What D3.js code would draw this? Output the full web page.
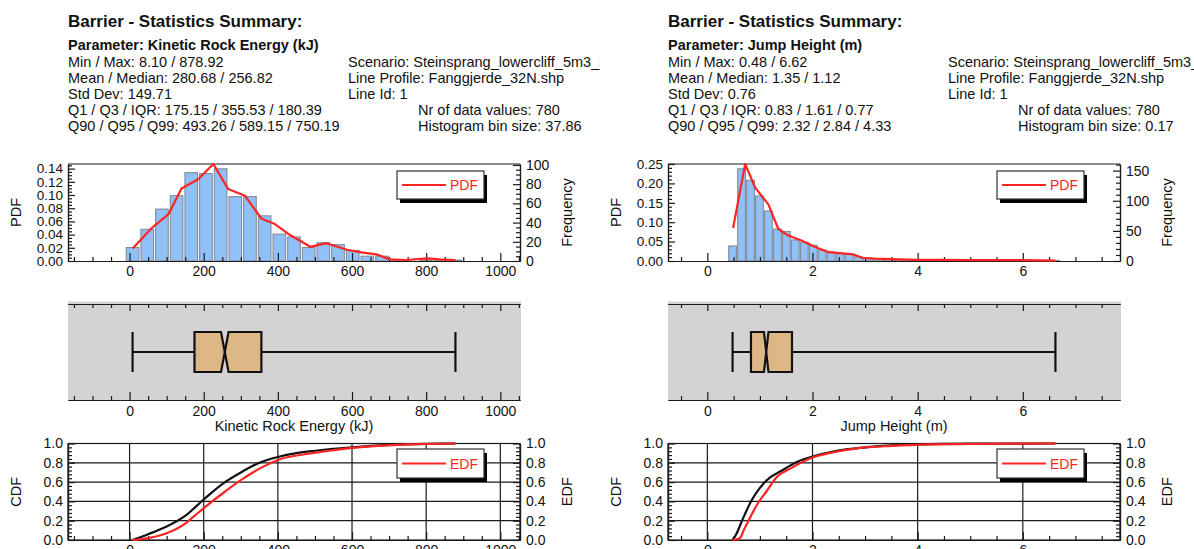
<!DOCTYPE html>
<html>
<head>
<meta charset="utf-8">
<script src="https://cdn.jsdelivr.net/npm/d3@7"></script>
<style>
  body { margin: 0; background: #fff; }
  svg { display: block; }
</style>
</head>
<body>
<svg id="chart" width="1194" height="549"></svg>
<script>
// ---------------- Kinetic Rock Energy (kJ) ----------------
const energyHeader = ["Barrier - Statistics Summary:", "Parameter: Kinetic Rock Energy (kJ)"];
const energyStatLines = [
  "Min / Max: 8.10 / 878.92",
  "Mean / Median: 280.68 / 256.82",
  "Std Dev: 149.71",
  "Q1 / Q3 / IQR: 175.15 / 355.53 / 180.39",
  "Q90 / Q95 / Q99: 493.26 / 589.15 / 750.19"
];
const energyInfoLines = ["Scenario: Steinsprang_lowercliff_5m3_sim", "Line Profile: Fanggjerde_32N.shp", "Line Id: 1"];
const energyCountLines = ["Nr of data values: 780", "Histogram bin size: 37.86"];
const energyBox = [8.10, 175.15, 256.82, 355.53, 878.92];     // min, Q1, median, Q3, max
const energyIQR = 180.39;
const energyCount = 780;
const energyFreq = [14, 33, 54, 68, 92, 91, 96, 67, 67, 47, 28, 25, 14, 19, 17, 11, 5, 5, 1, 0, 1, 1, 1];
const energyPdfX = [8.1, 60, 105, 140, 185, 226, 266, 311, 356, 392, 428, 468, 487, 531, 586, 625, 666, 702, 747, 801, 837, 878.92];
const energyPdfY = [0.019, 0.050, 0.071, 0.110, 0.124, 0.147, 0.109, 0.099, 0.064, 0.056, 0.041, 0.028, 0.0215, 0.027, 0.017, 0.013, 0.010, 0.0025, 0.0015, 0.004, 0.0025, 0.0015];
const energyCdfX = [8.1, 50, 100, 150, 200, 250, 300, 350, 400, 450, 500, 600, 700, 800, 878.92];
const energyCdfY = [0, 0.06, 0.14, 0.25, 0.42, 0.58, 0.70, 0.80, 0.86, 0.90, 0.925, 0.96, 0.985, 0.997, 1.0];
const energyEdfX = [8.1, 50, 100, 150, 175.15, 200, 256.82, 300, 355.53, 400, 493.26, 589.15, 650, 750.19, 878.92];
const energyEdfY = [0, 0.02, 0.07, 0.17, 0.25, 0.33, 0.5, 0.62, 0.75, 0.83, 0.90, 0.95, 0.97, 0.99, 1.0];
const energyXTicks = [0, 200, 400, 600, 800, 1000];
const energyPdfTicks = [0, 0.02, 0.04, 0.06, 0.08, 0.10, 0.12, 0.14];
const energyFreqTicks = [0, 20, 40, 60, 80, 100];
const energyFreqTop = 101;
const energyAxisTitle = "Kinetic Rock Energy (kJ)";

// ---------------- Jump Height (m) ----------------
const jumpHeader = ["Barrier - Statistics Summary:", "Parameter: Jump Height (m)"];
const jumpStatLines = [
  "Min / Max: 0.48 / 6.62",
  "Mean / Median: 1.35 / 1.12",
  "Std Dev: 0.76",
  "Q1 / Q3 / IQR: 0.83 / 1.61 / 0.77",
  "Q90 / Q95 / Q99: 2.32 / 2.84 / 4.33"
];
const jumpInfoLines = ["Scenario: Steinsprang_lowercliff_5m3_sim", "Line Profile: Fanggjerde_32N.shp", "Line Id: 1"];
const jumpCountLines = ["Nr of data values: 780", "Histogram bin size: 0.17"];
const jumpBox = [0.48, 0.83, 1.12, 1.61, 6.62];
const jumpIQR = 0.77;
const jumpCount = 780;
const jumpFreq = [25, 153, 134, 108, 83, 53, 49, 35, 31, 26, 18, 15, 13, 12, 7, 5,
                  3, 2, 2, 2, 1, 1, 1, 1, 0, 1, 0, 0, 0, 0, 1, 0, 0, 0, 0, 0, 1];
const jumpPdfX = [0.49, 0.72, 0.91, 1.16, 1.35, 1.54, 1.79, 2.05, 2.30, 2.61, 2.77, 2.96, 3.19, 3.5, 4.0, 4.5, 5.0, 5.5, 6.0, 6.62];
const jumpPdfY = [0.085, 0.25, 0.189, 0.146, 0.0825, 0.0655, 0.053, 0.036, 0.023, 0.019, 0.017, 0.0077, 0.006, 0.005, 0.003, 0.003, 0.002, 0.002, 0.002, 0.001];
const jumpCdfX = [0.48, 0.55, 0.66, 0.84, 1.0, 1.13, 1.42, 1.71, 2.03, 2.42, 3.0, 4.0, 5.0, 6.62];
const jumpCdfY = [0, 0.06, 0.20, 0.41, 0.54, 0.62, 0.72, 0.81, 0.87, 0.92, 0.96, 0.99, 0.998, 1.0];
const jumpEdfX = [0.48, 0.55, 0.62, 0.70, 0.83, 0.95, 1.12, 1.30, 1.61, 2.0, 2.32, 2.84, 3.5, 4.33, 5.0, 6.62];
const jumpEdfY = [0, 0.005, 0.02, 0.11, 0.25, 0.37, 0.5, 0.64, 0.75, 0.855, 0.90, 0.95, 0.975, 0.99, 0.995, 1.0];
const jumpXTicks = [0, 2, 4, 6];
const jumpPdfTicks = [0, 0.05, 0.10, 0.15, 0.20, 0.25];
const jumpFreqTicks = [0, 50, 100, 150];
const jumpFreqTop = 161;
const jumpAxisTitle = "Jump Height (m)";

const cdfTicks = [0, 0.2, 0.4, 0.6, 0.8, 1.0];

// ---------------- drawing ----------------
const FONT = '"Liberation Sans", Arial, Helvetica, sans-serif';
const RED = "#ff2424";
const svg = d3.select("#chart").style("font-family", FONT);

function minorTicks(domain, step, majors) {
  const out = [];
  const start = Math.ceil(domain[0] / step - 1e-9);
  const stop = Math.floor(domain[1] / step + 1e-9);
  for (let k = start; k <= stop; k++) {
    const v = k * step;
    if (!majors.some(m => Math.abs(m - v) < step * 1e-3)) out.push(v);
  }
  return out;
}

function styleAxis(sel, size) {
  sel.attr("font-size", null).attr("font-family", null);
  sel.selectAll("path, line").attr("stroke", "#1a1a1a").attr("stroke-width", 1.2);
  sel.selectAll("text").attr("fill", "#111").style("font-size", (size || 14) + "px").style("font-family", FONT);
}

// one axis: labelled major ticks + unlabelled minor ticks, ticks pointing inward
function axis(parent, gen, scale, majors, minors, fmt, majorLen, minorLen, pad, tf, size) {
  const a = parent.append("g").attr("transform", tf);
  a.call(gen(scale).tickValues(minors).tickSize(-minorLen).tickFormat("").tickSizeOuter(0));
  const m = a.append("g");
  m.call(gen(scale).tickValues(majors).tickSize(-majorLen).tickPadding(pad).tickFormat(fmt).tickSizeOuter(0));
  styleAxis(a, size);
  styleAxis(m, size);
  return a;
}

function legend(parent, x, y, w, h, label) {
  const g = parent.append("g");
  g.append("rect").attr("x", x + 3).attr("y", y + 4).attr("width", w).attr("height", h).attr("fill", "#000");
  g.append("rect").attr("x", x).attr("y", y).attr("width", w).attr("height", h)
    .attr("fill", "#fff").attr("stroke", "#333").attr("stroke-width", 1.2);
  g.append("line").attr("x1", x + 5).attr("x2", x + 49).attr("y1", y + h / 2).attr("y2", y + h / 2)
    .attr("stroke", RED).attr("stroke-width", 2.2);
  g.append("text").attr("x", x + 53).attr("y", y + h / 2).attr("dy", "0.36em")
    .attr("fill", RED).style("font-size", "14px").text(label);
}

function vTitle(parent, x, y, txt) {
  parent.append("text").attr("transform", `translate(${x},${y}) rotate(-90)`)
    .attr("text-anchor", "middle").attr("dy", "0.36em")
    .style("font-size", "14.5px").attr("fill", "#111").text(txt);
}

function drawPanel(ox, p, id) {
  svg.append("clipPath").attr("id", id).append("rect")
    .attr("x", 0).attr("y", 0).attr("width", 600).attr("height", 549);
  const root = svg.append("g").attr("transform", `translate(${ox},0)`);
  const g = root.append("g").attr("clip-path", `url(#${id})`);

  const L = 68, R = 520;
  const lo = p.box[0], hi = p.box[4], span = hi - lo;
  const xDom = [lo - 0.2 * span, hi + 0.2 * span];
  const x = d3.scaleLinear().domain(xDom).range([L, R]);
  const xMinor = minorTicks(xDom, p.xMinorStep, p.xTicks);

  // ---- header text ----
  g.append("text").attr("x", 68).attr("y", 27).style("font-size", "17px").style("font-weight", "bold")
    .attr("fill", "#111").text(p.header[0]);
  g.append("text").attr("x", 68).attr("y", 50).style("font-size", "14.5px").style("font-weight", "bold")
    .attr("fill", "#111").text(p.header[1]);
  g.selectAll("text.stat").data(p.stats).join("text").attr("class", "stat")
    .attr("x", 68).attr("y", (d, i) => 67 + i * 16).style("font-size", "14.5px").attr("fill", "#111").text(d => d);
  g.selectAll("text.info").data(p.info).join("text").attr("class", "info")
    .attr("x", 348).attr("y", (d, i) => 67 + i * 16).style("font-size", "14.5px").attr("fill", "#111").text(d => d);
  g.selectAll("text.count").data(p.counts).join("text").attr("class", "count")
    .attr("x", 418).attr("y", (d, i) => 115 + i * 16).style("font-size", "14.5px").attr("fill", "#111").text(d => d);

  // ---- histogram + PDF ----
  const hT = 164, hB = 261;
  const yPdf = d3.scaleLinear().domain([0, d3.max(p.pdfY)]).range([hB, hT]);
  const yFreq = d3.scaleLinear().domain([0, p.freqTop]).range([hB, hT]);
  const step = span / (p.freq.length - 1);
  const bw = step * 0.86;
  const hist = g.append("g");
  hist.selectAll("rect").data(p.freq).join("rect")
    .attr("x", (d, i) => x(lo + i * step - bw / 2))
    .attr("width", x(bw) - x(0))
    .attr("y", d => yFreq(d))
    .attr("height", d => hB - yFreq(d))
    .attr("fill", "#8fc1f8").attr("stroke", "#858b94").attr("stroke-width", 1.1);

  axis(g, d3.axisBottom, x, p.xTicks, xMinor, d => d, 8, 4, 5, `translate(0,${hB})`);
  axis(g, d3.axisLeft, yPdf, p.pdfTicks, minorTicks(yPdf.domain(), p.pdfMinorStep, p.pdfTicks),
       d3.format(".2f"), 7, 4, 5, `translate(${L},0)`, 13.5);
  axis(g, d3.axisRight, yFreq, p.freqTicks, minorTicks(yFreq.domain(), p.freqMinorStep, p.freqTicks),
       d => d, 7, 4, 6, `translate(${R},0)`);
  g.append("line").attr("x1", L).attr("x2", R).attr("y1", hT).attr("y2", hT).attr("stroke", "#1a1a1a").attr("stroke-width", 1.2);

  const pdfPts = p.pdfX.map((v, i) => [v, p.pdfY[i]]);
  g.append("path").datum(pdfPts)
    .attr("d", d3.line().x(d => x(d[0])).y(d => yPdf(d[1])))
    .attr("fill", "none").attr("stroke", RED).attr("stroke-width", 2.2).attr("stroke-linejoin", "round");
  legend(g, 397, 171, 87, 28, "PDF");
  vTitle(g, 16, (hT + hB) / 2, "PDF");
  vTitle(g, 567, (hT + hB) / 2, "Frequency");

  // ---- notched box plot ----
  const bT = 304, bB = 400;
  g.append("rect").attr("x", L).attr("y", 301.5).attr("width", R - L + 1).attr("height", bB - 301.5).attr("fill", "#d3d3d3");
  axis(g, d3.axisTop, x, p.xTicks, xMinor, "", 7, 4, 4, `translate(0,${bT})`);
  axis(g, d3.axisBottom, x, p.xTicks, xMinor, d => d, 8, 4, 6, `translate(0,${bB})`);
  g.append("text").attr("x", (L + R) / 2).attr("y", 431).attr("text-anchor", "middle")
    .style("font-size", "14.5px").attr("fill", "#111").text(p.axisTitle);

  const [mn, q1, med, q3, mx] = p.box;
  const top = 332, bot = 372, mid = (top + bot) / 2;
  const notch = 1.57 * p.iqr / Math.sqrt(p.count);
  const bx = g.append("g").attr("stroke", "#111").attr("stroke-width", 2.2);
  bx.append("line").attr("x1", x(mn)).attr("x2", x(mx)).attr("y1", mid).attr("y2", mid);
  bx.selectAll("line.cap").data([mn, mx]).join("line").attr("class", "cap")
    .attr("x1", d => x(d)).attr("x2", d => x(d)).attr("y1", top).attr("y2", bot);
  const poly = [
    [x(q1), top], [x(med - notch), top], [x(med), mid], [x(med + notch), top], [x(q3), top],
    [x(q3), bot], [x(med + notch), bot], [x(med), mid], [x(med - notch), bot], [x(q1), bot]
  ];
  bx.append("path").attr("d", d3.line()(poly) + "Z").attr("fill", "#ddb886").attr("stroke-linejoin", "miter");

  // ---- CDF / EDF ----
  const cT = 443.5, cB = 540;
  const yC = d3.scaleLinear().domain([0, 1]).range([cB, cT]);
  const grid = g.append("g").attr("stroke", "#1a1a1a").attr("stroke-width", 1.2);
  grid.selectAll("line.v").data(p.xTicks).join("line").attr("class", "v")
    .attr("x1", d => x(d)).attr("x2", d => x(d)).attr("y1", cT).attr("y2", cB);
  grid.selectAll("line.h").data(cdfTicks.slice(1, -1)).join("line").attr("class", "h")
    .attr("x1", L).attr("x2", R).attr("y1", d => yC(d)).attr("y2", d => yC(d));
  g.append("rect").attr("x", L).attr("y", cT).attr("width", R - L).attr("height", cB - cT)
    .attr("fill", "none").attr("stroke", "#1a1a1a").attr("stroke-width", 1.2);
  const cMinor = minorTicks([0, 1], 0.04, cdfTicks);
  axis(g, d3.axisLeft, yC, cdfTicks, cMinor, d3.format(".1f"), 7, 4, 5, `translate(${L},0)`);
  axis(g, d3.axisRight, yC, cdfTicks, cMinor, d3.format(".1f"), 7, 4, 6, `translate(${R},0)`);
  axis(g, d3.axisBottom, x, p.xTicks, xMinor, d => d, 8, 4, 5, `translate(0,${cB})`);

  const curve = d3.line().x(d => x(d[0])).y(d => yC(d[1])).curve(d3.curveMonotoneX);
  g.append("path").datum(p.cdfX.map((v, i) => [v, p.cdfY[i]]))
    .attr("d", curve).attr("fill", "none").attr("stroke", "#111").attr("stroke-width", 2.2);
  g.append("path").datum(p.edfX.map((v, i) => [v, p.edfY[i]]))
    .attr("d", curve).attr("fill", "none").attr("stroke", RED).attr("stroke-width", 2.2);
  legend(g, 397, 449, 87, 29, "EDF");
  vTitle(g, 16, (cT + cB) / 2, "CDF");
  vTitle(g, 567, (cT + cB) / 2, "EDF");
}

drawPanel(0, {
  header: energyHeader, stats: energyStatLines, info: energyInfoLines, counts: energyCountLines,
  box: energyBox, iqr: energyIQR, count: energyCount,
  freq: energyFreq, freqTop: energyFreqTop, pdfX: energyPdfX, pdfY: energyPdfY,
  cdfX: energyCdfX, cdfY: energyCdfY, edfX: energyEdfX, edfY: energyEdfY,
  xTicks: energyXTicks, xMinorStep: 50, pdfTicks: energyPdfTicks, pdfMinorStep: 0.005,
  freqTicks: energyFreqTicks, freqMinorStep: 5, axisTitle: energyAxisTitle
}, "clipEnergy");

drawPanel(600, {
  header: jumpHeader, stats: jumpStatLines, info: jumpInfoLines, counts: jumpCountLines,
  box: jumpBox, iqr: jumpIQR, count: jumpCount,
  freq: jumpFreq, freqTop: jumpFreqTop, pdfX: jumpPdfX, pdfY: jumpPdfY,
  cdfX: jumpCdfX, cdfY: jumpCdfY, edfX: jumpEdfX, edfY: jumpEdfY,
  xTicks: jumpXTicks, xMinorStep: 0.5, pdfTicks: jumpPdfTicks, pdfMinorStep: 0.01,
  freqTicks: jumpFreqTicks, freqMinorStep: 10, axisTitle: jumpAxisTitle
}, "clipJump");
</script>
</body>
</html>
